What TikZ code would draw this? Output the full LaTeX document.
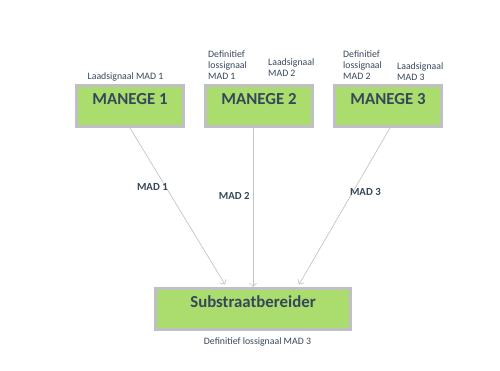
\documentclass[tikz,border=0pt]{standalone}
\usepackage{fontspec}
\setmainfont{Carlito}
\usepackage{tikz}
\usetikzlibrary{arrows.meta,positioning}
\definecolor{slatetext}{HTML}{37475A}
\definecolor{boxgreen}{HTML}{AADC6E}
\definecolor{boxgray}{HTML}{C0BFC6}
\definecolor{linegray}{HTML}{C4C4C4}
\tikzset{
  unit/.style={draw=boxgray,line width=3pt,fill=boxgreen,text=slatetext,font=\fontsize{16.8}{17}\selectfont\bfseries,minimum height=41pt,inner ysep=8pt,text height=11pt,text depth=14pt},
  signal/.style={text=slatetext,font=\fontsize{9.8}{11.3}\selectfont,align=left,inner sep=0pt},
  flow/.style={-{Straight Barb[length=3.5pt,width=7pt]},line width=0.7pt,color=linegray},
}
\begin{document}
\begin{tikzpicture}[x=1pt,y=1pt,
  madlabel/.style={text=slatetext,font=\fontsize{10.8}{12}\selectfont\bfseries,inner sep=0pt}]
  \useasboundingbox (0,0) rectangle (500,-371);
  \node[unit,minimum width=107pt] (m1) at (130,-106) {MANEGE 1};
  \node[unit,minimum width=107pt,right=19pt of m1] (m2) {MANEGE 2};
  \node[unit,minimum width=107pt,right=19pt of m2] (m3) {MANEGE 3};
  \node[unit,minimum width=195pt] (sub) at (253,-309) {Substraatbereider};
  \node[signal,above=2.5pt of m1.north,xshift=-4.5pt] (l1) {Laadsignaal MAD 1};
  \node[signal,above right=4pt and 4pt of m2.north west] (d1) {Definitief\\lossignaal\\MAD 1};
  \node[signal,above right=7pt and 64pt of m2.north west] (l2) {Laadsignaal\\MAD 2};
  \node[signal,above right=4pt and 10pt of m3.north west] (d2) {Definitief\\lossignaal\\MAD 2};
  \node[signal,above right=3pt and 64pt of m3.north west] (l3) {Laadsignaal\\MAD 3};
  \node[signal,below=6pt of sub.south,xshift=4.5pt] (d3) {Definitief lossignaal MAD 3};
  \draw[flow] (m1.south) -- node[madlabel,pos=0.38,left=-2pt] {MAD 1} ([xshift=-28pt,yshift=2.5pt]sub.north);
  \draw[flow] ([xshift=-6pt]m2.south) -- node[madlabel,pos=0.43,left=3pt] {MAD 2} (sub.north);
  \draw[flow] ([xshift=2pt]m3.south) -- node[madlabel,pos=0.41,right=-3pt] {MAD 3} ([xshift=46pt,yshift=2.5pt]sub.north);
\end{tikzpicture}
\end{document}
